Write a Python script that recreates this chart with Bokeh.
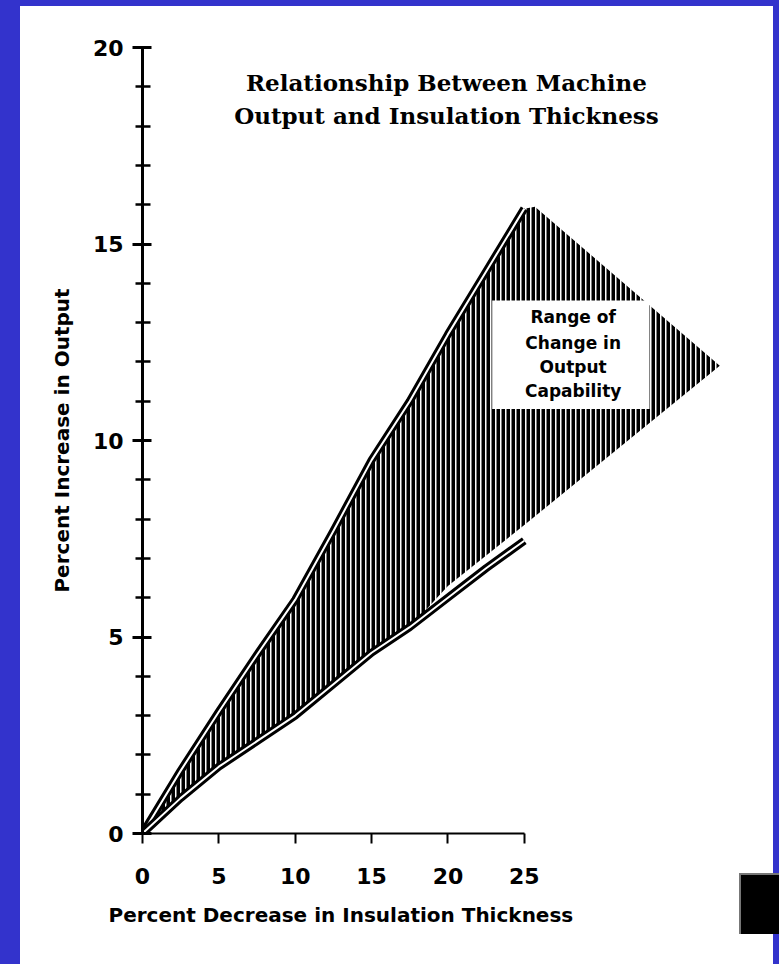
from bokeh.plotting import figure
from bokeh.models import Range1d, SingleIntervalTicker, FixedTicker, Label, Spacer, BoxAnnotation, Title
from bokeh.layouts import row, column
from bokeh.embed import file_html
from bokeh.resources import INLINE

# ---- data ----
title_lines = ["Relationship Between Machine", "Output and Insulation Thickness"]
x_label = "Percent Decrease in Insulation Thickness"
y_label = "Percent Increase in Output"
box_lines = ["Range of", "Change in", "Output", "Capability"]

thickness_decrease = [0, 2.5, 5, 7.5, 10, 12.5, 15, 17.5, 20, 22.5, 25]
output_upper = [0, 1.6, 3.1, 4.55, 5.95, 7.7, 9.5, 11.0, 12.7, 14.3, 15.9]
output_lower = [0, 0.9, 1.7, 2.35, 3.0, 3.8, 4.6, 5.25, 6.0, 6.75, 7.45]
range_edge_x = [25.7, 37.8, 25, 20]
range_edge_y = [15.95, 11.9, 7.85, 6.3]
x_ticks = [0, 5, 10, 15, 20, 25]

BLUE = "#3333cc"
SANS = "DejaVu Sans"
SERIF = "DejaVu Serif"

# shaded polygon built from the curves
low_back = [(x, y) for x, y in zip(thickness_decrease, output_lower) if x < range_edge_x[-1]][::-1]
patch_x = thickness_decrease + range_edge_x + [x for x, _ in low_back]
patch_y = output_upper + range_edge_y + [y for _, y in low_back]

p = figure(width=719, height=958, x_range=Range1d(0, 38.83), y_range=Range1d(0, 20),
           output_backend="svg", toolbar_location=None,
           min_border_left=122, min_border_right=4, min_border_top=41, min_border_bottom=131,
           background_fill_color="white", border_fill_color="white", outline_line_color=None)
p.xgrid.visible = False
p.ygrid.visible = False

p.patch(patch_x, patch_y, fill_color="white", hatch_pattern="vertical_line",
        hatch_color="black", hatch_scale=5, hatch_weight=4, line_color=None)

for ys in (output_upper, output_lower):
    p.line(thickness_decrease, ys, line_color="black", line_width=8, line_join="round")
    p.line(thickness_decrease, ys, line_color="white", line_width=2, line_join="round")

# axes
xa = p.xaxis[0]
xa.ticker = FixedTicker(ticks=x_ticks)
xa.bounds = (0, 25)
xa.major_tick_in = 0
xa.major_tick_out = 10
xa.minor_tick_out = 0
xa.axis_line_width = 2
xa.major_tick_line_width = 2
xa.major_label_standoff = 24
xa.major_label_text_font = SANS
xa.major_label_text_font_style = "bold"
xa.major_label_text_font_size = "22px"
xa.major_label_text_color = "black"

ya = p.yaxis[0]
ya.ticker = SingleIntervalTicker(interval=5, num_minor_ticks=5)
ya.bounds = (0, 20)
ya.major_tick_in = 9
ya.major_tick_out = 10
ya.minor_tick_in = 8
ya.minor_tick_out = 7
ya.axis_line_width = 3
ya.major_tick_line_width = 3
ya.minor_tick_line_width = 2.5
ya.major_label_standoff = 9
ya.major_label_text_font = SANS
ya.major_label_text_font_style = "bold"
ya.major_label_text_font_size = "22px"
ya.major_label_text_color = "black"
ya.axis_label = y_label
ya.axis_label_text_font = SANS
ya.axis_label_text_font_style = "bold"
ya.axis_label_text_font_size = "20px"
ya.axis_label_text_color = "black"
ya.axis_label_standoff = 16

# x axis caption, left-aligned under the axis
p.add_layout(Title(text=x_label, align="left", offset=-34, standoff=28,
                   text_font=SANS, text_font_style="bold", text_font_size="20px",
                   text_color="black"), "below")

# chart heading
for txt, yy in zip(title_lines, [19.12, 18.28]):
    p.add_layout(Label(x=19.9, y=yy, text=txt, text_align="center", text_baseline="middle",
                       text_font=SERIF, text_font_style="bold", text_font_size="23px",
                       text_color="black"))

# label box
p.add_layout(BoxAnnotation(left=22.9, right=33.2, bottom=10.8, top=13.56,
                           fill_color="white", fill_alpha=1, line_color=None))
for txt, yy in zip(box_lines, [13.13, 12.49, 11.88, 11.25]):
    p.add_layout(Label(x=28.2, y=yy, text=txt, text_align="center", text_baseline="middle",
                       text_font=SANS, text_font_style="bold", text_font_size="17px",
                       text_color="black"))

def block(w, h, color, extra=None):
    st = {"background-color": color}
    if extra:
        st.update(extra)
    return Spacer(width=w, height=h, styles=st)

right_col = column(
    row(block(34, 867, "white"), block(6, 867, BLUE)),
    block(40, 61, "black", {"box-shadow": "inset 2px 2px 0 0 #777"}),
    row(block(34, 30, "white"), block(6, 30, BLUE)),
)

layout = column(
    block(779, 6, BLUE),
    row(block(20, 958, BLUE), p, right_col),
)

open("out.html", "w").write(file_html(layout, INLINE))
